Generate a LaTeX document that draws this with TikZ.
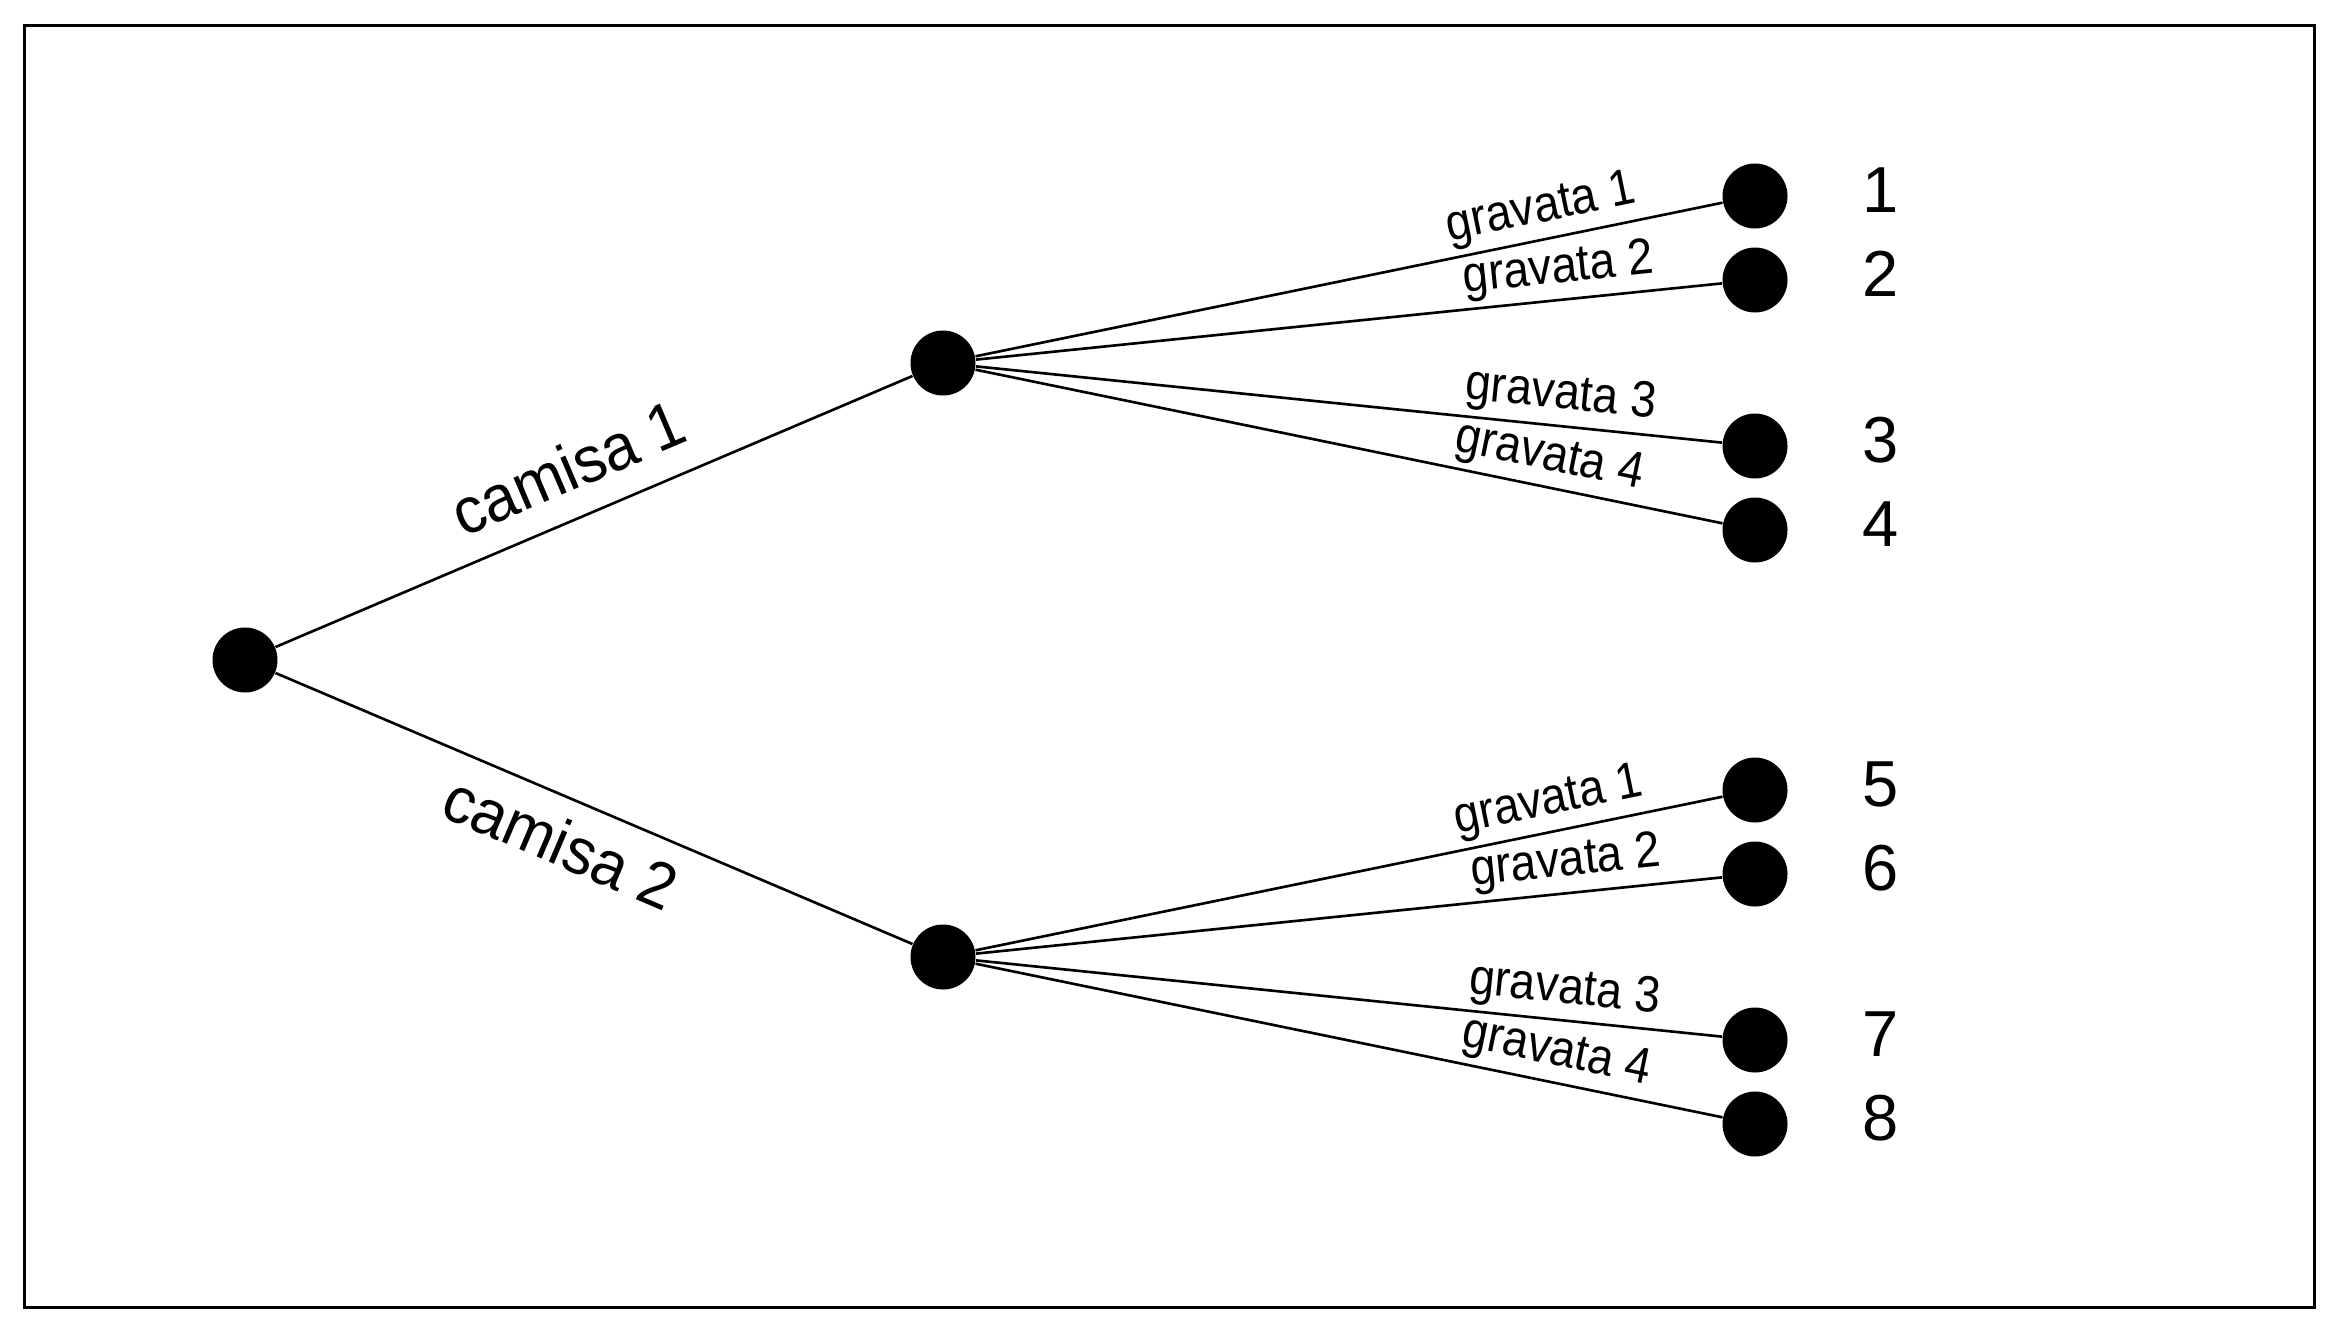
\documentclass[tikz,border=0pt]{standalone}
\usepackage{fontspec}
\setmainfont{Liberation Sans}
\usepackage{graphicx}
\usetikzlibrary{positioning}

\newcommand{\tielabel}[1]{\scalebox{0.9}[1]{gravata #1}}
\newcommand{\shirtlabel}[1]{\scalebox{0.95}[1]{camisa #1}}

\begin{document}
\begin{tikzpicture}[
    dot/.style={circle,fill=black,inner sep=0pt,minimum size=0.65cm},
    ramo/.style={line width=0.75pt},
    camlbl/.style={sloped,font=\fontsize{18.5}{20}\selectfont},
    gravlbl/.style={sloped,above=0.02cm,inner sep=1pt,font=\fontsize{14.5}{16}\selectfont},
    num/.style={font=\fontsize{18.5}{20}\selectfont,yshift=0.06cm}
  ]
    \useasboundingbox (0,0) rectangle (23.39,13.38);
    \draw[line width=0.85pt] (0.245,0.305) rectangle (23.145,13.125);

    \node[dot] (raiz) at (2.45,6.78) {};
    \node[dot] (c1) at (9.43,9.75) {};
    \node[dot] (c2) at (9.43,3.81) {};

    \draw[ramo] (raiz) -- node[camlbl,above=0.14cm,pos=0.49] {\shirtlabel{1}} (c1);
    \draw[ramo] (raiz) -- node[camlbl,below=0.07cm,pos=0.475] {\shirtlabel{2}} (c2);

    % folhas: camisa x gravata
    \foreach \k/\y/\c/\g/\p in {1/11.42/c1/1/0.765, 2/10.58/c1/2/0.785, 3/8.92/c1/3/0.78, 4/8.08/c1/4/0.76,
                                5/5.48/c2/1/0.775, 6/4.64/c2/2/0.795, 7/2.98/c2/3/0.785, 8/2.14/c2/4/0.77} {
      \node[dot] (f\k) at (17.55,\y) {};
      \node[num,right=0.62cm of f\k] (n\k) {\k};
      \draw[ramo] (\c) -- node[gravlbl,pos=\p] {\tielabel{\g}} (f\k);
    }
\end{tikzpicture}
\end{document}
